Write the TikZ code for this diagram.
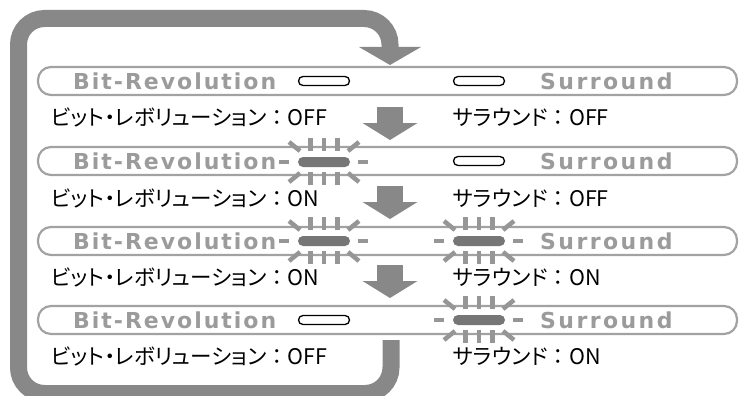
\documentclass[tikz,border=0pt]{standalone}
\usepackage{fontspec}
\newfontfamily\jpfont[RawFeature=+palt]{Noto Sans CJK JP}
\newfontfamily\jpfull{Noto Sans CJK JP}
\newfontfamily\panelfont[LetterSpace=9]{DejaVu Sans}
\newfontfamily\surfont[LetterSpace=11]{DejaVu Sans}
\usetikzlibrary{arrows.meta}

\definecolor{loopgray}{RGB}{136,136,136}
\definecolor{framegray}{RGB}{162,162,162}
\definecolor{textgray}{RGB}{155,155,155}
\definecolor{ledgray}{RGB}{118,118,118}
\definecolor{raygray}{RGB}{150,150,150}

\newcommand\statesep{{\jpfull ：}}

\begin{document}
\begin{tikzpicture}[
    x=1pt, y=-1pt,
    panel/.style={draw=framegray, line width=2.2pt, rounded corners=13pt, minimum width=699pt, minimum height=28pt, inner sep=0pt},
    paneltext/.style={font=\panelfont\bfseries\fontsize{22}{22}\selectfont, text=textgray, anchor=west, inner sep=0pt},
    surtext/.style={paneltext, font=\surfont\bfseries\fontsize{22}{22}\selectfont},
    state/.style={font=\jpfont\fontsize{21.5}{21.5}\selectfont, anchor=west, inner sep=0pt},
    ledoff/.style={draw=black, line width=1.3pt, rounded corners=4.5pt, minimum width=51pt, minimum height=9pt, inner sep=0pt},
    ledon/.style={fill=ledgray, rounded corners=5pt, minimum width=52pt, minimum height=10pt, inner sep=0pt},
    ray/.style={raygray, line width=4.5pt},
    flow/.style={loopgray, line width=26pt, -{Triangle[length=17pt, width=55pt, line width=0pt]}},
    loopline/.style={loopgray, line width=17pt, rounded corners=26pt, -{Triangle[length=18pt, width=62pt, line width=0pt]}},
    pics/glow/.style={code={
        \foreach \dx in {-13.5,0,13.5} {
            \draw[ray] (\dx,-24) -- (\dx,-11);
            \draw[ray] (\dx,10) -- (\dx,23);
        }
        \draw[ray] (-45,0) -- (-35,0);
        \draw[ray] (34,0) -- (44,0);
        \foreach \sx in {-1,1} {
            \draw[ray] (\sx*35,-20) -- (\sx*24,-11);
            \draw[ray] (\sx*35,20) -- (\sx*24,11);
        }
    }}
]
\useasboundingbox (0,0) rectangle (739,396);

%% ---- Loop back ----
\coordinate (loopstart) at (391,340);
\coordinate (loopend) at (390,65);
\draw[loopline] (loopstart) -- (391,393.5) -- (18.5,393.5) -- (18.5,18.5) -- (390,18.5) -- (loopend);

%% ---- Panels ----
\node[panel] (p1) at (387.5,81) {};
\node[panel] (p2) at (387.5,161) {};
\node[panel] (p3) at (387.5,241) {};
\node[panel] (p4) at (387.5,320) {};

\foreach \row/\y in {1/81,2/161,3/241,4/320} {
    \node[paneltext] (bit\row) at (73,\y) {Bit-Revolution};
    \node[surtext] (sur\row) at (540,\y) {Surround};
}

%% ---- Indicators ----
\node[ledoff] (l1) at (324,81) {};
\node[ledoff] (r1) at (479,81) {};
\pic at (324,162) {glow};
\node[ledon] (l2) at (324,162) {};
\node[ledoff] (r2) at (479,161) {};
\pic at (324,241) {glow};
\node[ledon] (l3) at (324,241) {};
\pic at (479,241) {glow};
\node[ledon] (r3) at (479,241) {};
\node[ledoff] (l4) at (324,320) {};
\pic at (479,320) {glow};
\node[ledon] (r4) at (479,320) {};

%% ---- State labels ----
\node[state] (bs1) at (51,117) {ビット・レボリューション\statesep OFF};
\node[state] (ss1) at (453,117) {サラウンド\statesep OFF};
\node[state] (bs2) at (51,198) {ビット・レボリューション\statesep ON};
\node[state] (ss2) at (453,198) {サラウンド\statesep OFF};
\node[state] (bs3) at (51,277) {ビット・レボリューション\statesep ON};
\node[state] (ss3) at (453,277) {サラウンド\statesep ON};
\node[state] (bs4) at (51,356) {ビット・レボリューション\statesep OFF};
\node[state] (ss4) at (453,356) {サラウンド\statesep ON};

%% ---- Step arrows ----
\coordinate (a1) at (390,107);
\coordinate (b1) at (390,140);
\coordinate (a2) at (390,186);
\coordinate (b2) at (390,219);
\coordinate (a3) at (390,265);
\coordinate (b3) at (390,298);
\draw[flow] (a1) -- (b1);
\draw[flow] (a2) -- (b2);
\draw[flow] (a3) -- (b3);

\end{tikzpicture}
\end{document}
